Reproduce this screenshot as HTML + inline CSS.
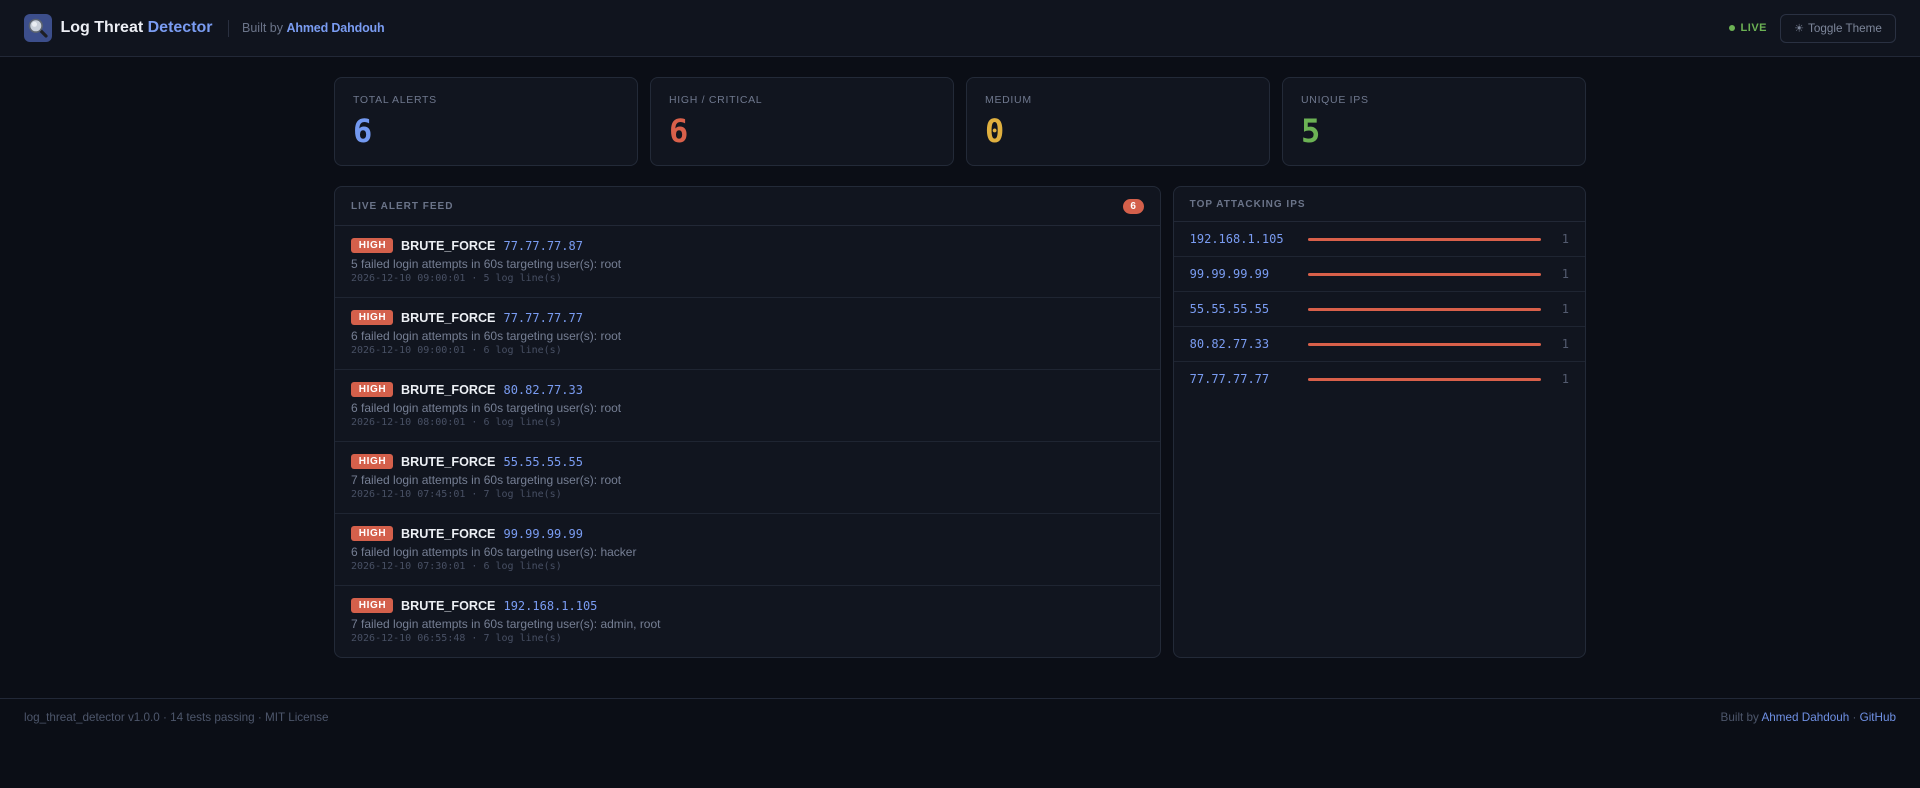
<!DOCTYPE html>
<html><head><meta charset="utf-8">
<style>
*{box-sizing:border-box;margin:0;padding:0}
html,body{width:1920px;height:788px;overflow:hidden;background:#0b0e16;font-family:"Liberation Sans",sans-serif;}
.hdr{height:57px;border-bottom:1px solid #222837;background:#10141e;display:flex;align-items:center;padding:0 24px;}
.logo{width:28px;height:28px;flex:none;}
.title{margin-left:8.5px;font-size:16px;font-weight:bold;color:#eceef4;white-space:nowrap;}
.title span{color:#7a9cf2;}
.div{margin-left:15.5px;width:1px;height:17px;background:#2a3040;}
.by{margin-left:13px;font-size:12.5px;color:#6b7489;white-space:nowrap;}
.by b{color:#7a9cf2;letter-spacing:-0.15px;}
.right{margin-left:auto;display:flex;align-items:center;}
.dot{width:6px;height:6px;border-radius:50%;background:#6cb254;margin-right:6px;}
.live{font-size:11px;font-weight:bold;letter-spacing:0.5px;color:#6cb254;}
.btn{margin-left:13px;width:116px;height:29px;border:1px solid #2a3142;border-radius:6px;display:flex;align-items:center;justify-content:center;font-size:11.7px;color:#7d869a;background:#11151f;}
.btn .sun{font-family:"DejaVu Sans",sans-serif;font-size:11px;margin-right:4px;color:#7d869a;}
.main{padding:20px 0 40px 334px;}
.cards{display:grid;grid-template-columns:repeat(4,304px);gap:12px;width:1252px;}
.card{height:89px;border:1px solid #232a38;border-radius:8px;background:#11151f;padding:16px 18px 0;}
.lbl{font-size:10.5px;letter-spacing:0.7px;color:#6f788e;line-height:13px;white-space:nowrap;}
.num{font-family:"DejaVu Sans Mono","Liberation Mono",monospace;font-weight:bold;font-size:32px;line-height:36px;margin-top:6px;}
.panels{margin-top:20px;display:grid;grid-template-columns:2fr 1fr;gap:12px;width:1252px;}
.panel{border:1px solid #232a38;border-radius:8px;background:#11151f;overflow:hidden;}
.ph{height:39px;border-bottom:1px solid #222836;padding:0 16px;display:flex;align-items:center;justify-content:space-between;}
.ph2{height:35px;}
.pt{font-size:10px;font-weight:bold;letter-spacing:1px;color:#6b7489;white-space:nowrap;}
.cnt{height:15px;min-width:21px;border-radius:8px;background:#d4604b;color:#fff;font-size:10px;font-weight:bold;display:flex;align-items:center;justify-content:center;}
.row{height:72px;border-bottom:1px solid #1f2532;padding:11px 16px 0;}
.row:last-child{border-bottom:none;height:71px;}
.l1{height:17px;display:flex;align-items:center;}
.high{width:42px;height:15px;border-radius:3px;background:#d4604b;color:#fff;font-size:10px;font-weight:bold;letter-spacing:0.6px;display:flex;align-items:center;justify-content:center;padding-left:1px;flex:none;}
.type{margin-left:8px;font-size:12.6px;font-weight:bold;color:#eceff4;}
.ip{margin-left:8px;font-family:"DejaVu Sans Mono","Liberation Mono",monospace;font-size:12px;color:#7a9cf2;}
.desc{margin-top:2px;font-size:12px;line-height:16px;color:#767f94;white-space:nowrap;}
.ts{font-family:"DejaVu Sans Mono","Liberation Mono",monospace;font-size:10px;line-height:14px;color:#485064;white-space:nowrap;}
.irow{height:35px;border-bottom:1px solid #1f2532;display:flex;align-items:center;padding:0 16px;}
.irow:last-child{border-bottom:none;height:34px;}
.iip{width:110px;flex:none;font-family:"DejaVu Sans Mono","Liberation Mono",monospace;font-size:12px;color:#7a9cf2;}
.bar{margin-left:8px;flex:1;height:3px;border-radius:2px;background:#d9604a;}
.ic{margin-left:8px;width:20px;flex:none;text-align:right;font-family:"DejaVu Sans Mono","Liberation Mono",monospace;font-size:12px;color:#535b6f;}
.foot{border-top:1px solid #222837;padding:11px 24px 0;display:flex;justify-content:space-between;font-size:11.7px;line-height:16px;color:#4d566b;white-space:nowrap;}
.foot a{color:#6f90e4;text-decoration:none;}
</style></head>
<body>
<div class="hdr">
  <svg class="logo" width="28" height="28" viewBox="0 0 28 28">
    <rect x="0" y="0" width="28" height="28" rx="6" fill="#3c4e8b"/>
    <line x1="16.5" y1="16.5" x2="22" y2="22" stroke="#1e1f24" stroke-width="3.2" stroke-linecap="round"/>
    <circle cx="11.8" cy="11.8" r="6.3" fill="#c9d0da" stroke="#5c6470" stroke-width="1.6"/>
    <circle cx="10.5" cy="10.3" r="2.5" fill="#e9edf2"/>
  </svg>
  <div class="title">Log Threat <span>Detector</span></div>
  <div class="div"></div>
  <div class="by">Built by <b>Ahmed Dahdouh</b></div>
  <div class="right">
    <div class="dot"></div><div class="live">LIVE</div>
    <div class="btn"><span class="sun">☀</span>Toggle Theme</div>
  </div>
</div>
<div class="main">
  <div class="cards">
    <div class="card"><div class="lbl">TOTAL ALERTS</div><div class="num" style="color:#7399f0">6</div></div>
    <div class="card"><div class="lbl">HIGH / CRITICAL</div><div class="num" style="color:#d9604a">6</div></div>
    <div class="card"><div class="lbl">MEDIUM</div><div class="num" style="color:#e0b03f">0</div></div>
    <div class="card"><div class="lbl">UNIQUE IPS</div><div class="num" style="color:#6cb254">5</div></div>
  </div>
  <div class="panels">
    <div class="panel">
      <div class="ph"><div class="pt">LIVE ALERT FEED</div><div class="cnt">6</div></div>
      <div class="row"><div class="l1"><span class="high">HIGH</span><span class="type">BRUTE_FORCE</span><span class="ip">77.77.77.87</span></div><div class="desc">5 failed login attempts in 60s targeting user(s): root</div><div class="ts">2026-12-10 09:00:01 · 5 log line(s)</div></div>
      <div class="row"><div class="l1"><span class="high">HIGH</span><span class="type">BRUTE_FORCE</span><span class="ip">77.77.77.77</span></div><div class="desc">6 failed login attempts in 60s targeting user(s): root</div><div class="ts">2026-12-10 09:00:01 · 6 log line(s)</div></div>
      <div class="row"><div class="l1"><span class="high">HIGH</span><span class="type">BRUTE_FORCE</span><span class="ip">80.82.77.33</span></div><div class="desc">6 failed login attempts in 60s targeting user(s): root</div><div class="ts">2026-12-10 08:00:01 · 6 log line(s)</div></div>
      <div class="row"><div class="l1"><span class="high">HIGH</span><span class="type">BRUTE_FORCE</span><span class="ip">55.55.55.55</span></div><div class="desc">7 failed login attempts in 60s targeting user(s): root</div><div class="ts">2026-12-10 07:45:01 · 7 log line(s)</div></div>
      <div class="row"><div class="l1"><span class="high">HIGH</span><span class="type">BRUTE_FORCE</span><span class="ip">99.99.99.99</span></div><div class="desc">6 failed login attempts in 60s targeting user(s): hacker</div><div class="ts">2026-12-10 07:30:01 · 6 log line(s)</div></div>
      <div class="row"><div class="l1"><span class="high">HIGH</span><span class="type">BRUTE_FORCE</span><span class="ip">192.168.1.105</span></div><div class="desc">7 failed login attempts in 60s targeting user(s): admin, root</div><div class="ts">2026-12-10 06:55:48 · 7 log line(s)</div></div>
    </div>
    <div class="panel">
      <div class="ph ph2"><div class="pt">TOP ATTACKING IPS</div></div>
      <div class="irow"><span class="iip">192.168.1.105</span><span class="bar"></span><span class="ic">1</span></div>
      <div class="irow"><span class="iip">99.99.99.99</span><span class="bar"></span><span class="ic">1</span></div>
      <div class="irow"><span class="iip">55.55.55.55</span><span class="bar"></span><span class="ic">1</span></div>
      <div class="irow"><span class="iip">80.82.77.33</span><span class="bar"></span><span class="ic">1</span></div>
      <div class="irow"><span class="iip">77.77.77.77</span><span class="bar"></span><span class="ic">1</span></div>
    </div>
  </div>
</div>
<div class="foot">
  <div>log_threat_detector v1.0.0 · 14 tests passing · MIT License</div>
  <div>Built by <a>Ahmed Dahdouh</a> · <a>GitHub</a></div>
</div>
</body></html>
